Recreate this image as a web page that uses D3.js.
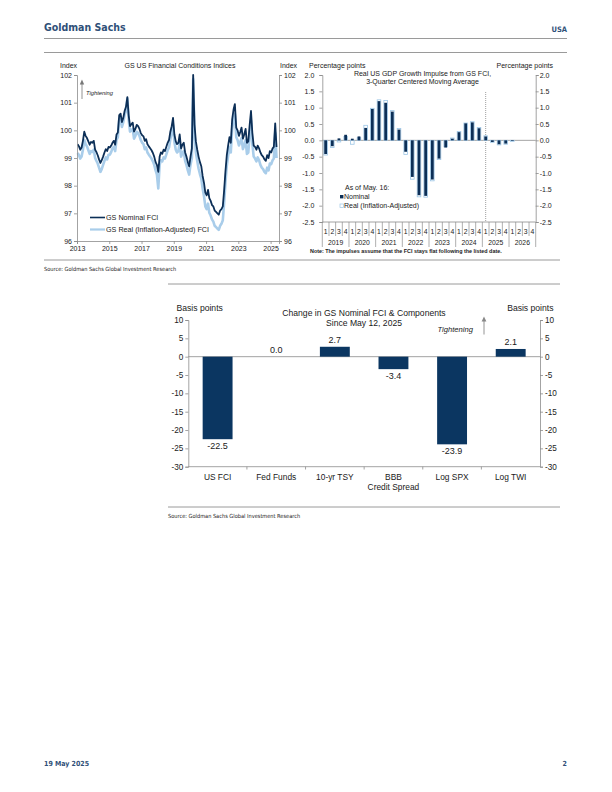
<!DOCTYPE html>
<html lang="en">
<head>
<meta charset="utf-8">
<script src="https://cdn.jsdelivr.net/npm/d3@7/dist/d3.min.js"></script>
<style>
  body { margin: 0; background: #fff; }
  text { font-family: "Liberation Sans", Arial, sans-serif; fill: #1a1a1a; }
  .cond { font-family: "Liberation Sans Narrow", "DejaVu Sans Condensed", "Liberation Sans", sans-serif; }
</style>
</head>
<body>
<svg id="page" width="612" height="792"></svg>
<script>

// ---------- data ----------
// GS FCI, monthly readings from Jan 2013 to May 2025
var fciStartYear = 2013;
var fciYearTicks = [2013, 2015, 2017, 2019, 2021, 2023, 2025];
var nominalFci = [
  99.50, 99.42, 99.30, 99.38, 99.62, 99.95, 99.80, 99.72, 99.60, 99.48, 99.58, 99.55,
  99.62, 99.30, 99.22, 99.10, 98.95, 98.82, 98.92, 99.05, 99.20, 99.32, 99.25, 99.40,
  99.38, 99.45, 99.55, 99.62, 99.48, 99.85, 99.92, 100.55, 100.60, 100.30, 100.45, 100.70,
  100.85, 101.20, 100.55, 100.15, 100.22, 100.28, 99.95, 100.05, 100.20, 100.15, 100.05, 99.90,
  99.82, 99.78, 99.62, 99.68, 99.50, 99.42, 99.35, 99.28, 99.18, 99.05, 98.85, 98.75,
  98.50, 99.05, 99.20, 99.15, 99.30, 99.25, 99.40, 99.55, 99.65, 99.95, 100.15, 100.45,
  99.85, 99.60, 99.50, 99.55, 99.85, 99.35, 99.48, 99.55, 99.20, 99.05, 98.85, 98.70,
  99.05, 99.35, 102.00, 100.20, 99.60, 99.30, 99.05, 98.85, 98.70, 98.35, 98.10, 97.75,
  97.65, 97.85, 97.55, 97.45, 97.30, 97.25, 97.10, 97.05, 97.00, 96.95, 97.10, 97.15,
  97.25, 97.85, 98.50, 99.10, 99.45, 99.75, 99.55, 100.40, 100.75, 100.95, 100.10, 100.00,
  99.80, 99.95, 100.10, 99.70, 99.85, 100.05, 99.55, 99.60, 100.20, 100.70, 99.90, 99.45,
  99.40, 99.30, 99.45, 99.35, 99.20, 99.10, 99.05, 98.95, 98.90, 99.10, 99.00, 99.25,
  99.20, 99.35, 99.40, 100.25, 99.40
];
var realFci = [
  99.18, 99.10, 98.98, 99.05, 99.30, 99.65, 99.50, 99.42, 99.28, 99.15, 99.25, 99.22,
  99.30, 99.00, 98.90, 98.80, 98.65, 98.50, 98.60, 98.75, 98.90, 99.02, 98.95, 99.12,
  99.12, 99.22, 99.35, 99.40, 99.25, 99.65, 99.75, 100.40, 100.45, 100.12, 100.30, 100.55,
  100.70, 101.15, 100.40, 99.95, 100.00, 100.05, 99.70, 99.80, 99.95, 99.90, 99.80, 99.65,
  99.55, 99.50, 99.32, 99.38, 99.20, 99.12, 99.05, 98.98, 98.88, 98.75, 98.55, 98.40,
  97.90, 98.75, 98.92, 98.88, 99.02, 98.98, 99.12, 99.28, 99.38, 99.68, 99.90, 100.20,
  99.58, 99.30, 99.20, 99.25, 99.55, 99.05, 99.18, 99.25, 98.90, 98.75, 98.55, 98.40,
  98.75, 99.00, 101.85, 99.85, 99.20, 98.90, 98.62, 98.42, 98.25, 97.90, 97.62, 97.25,
  97.15, 97.35, 97.02, 96.92, 96.78, 96.70, 96.55, 96.50, 96.45, 96.40, 96.55, 96.62,
  96.75, 97.40, 98.10, 98.72, 99.08, 99.40, 99.20, 100.05, 100.40, 100.60, 99.75, 99.65,
  99.45, 99.58, 99.72, 99.32, 99.45, 99.65, 99.15, 99.20, 99.82, 100.35, 99.50, 99.05,
  98.98, 98.88, 99.02, 98.92, 98.75, 98.65, 98.60, 98.50, 98.45, 98.65, 98.55, 98.80,
  98.78, 98.92, 98.98, 99.90, 99.00
];

// GDP impulse, quarterly 2019Q1 .. 2026Q4
var impulseYears = ["2019", "2020", "2021", "2022", "2023", "2024", "2025", "2026"];
var impulseNominal = [
  -0.42, -0.18, 0.06, 0.17, 0.05, 0.12, 0.38, 0.96,
   1.20, 1.15, 0.88, 0.33, -0.35, -1.12, -1.68, -1.70,
  -1.20, -0.56, -0.22, 0.05, 0.25, 0.52, 0.55, 0.37,
   0.12, -0.05, -0.12, -0.10, -0.02, null, null, null
];
var impulseReal = [
  -0.45, -0.22, -0.05, 0.12, -0.12, 0.08, 0.46, 0.98,
   1.24, 1.22, 0.91, 0.36, -0.43, -1.19, -1.73, -1.74,
  -1.24, -0.59, -0.20, 0.07, 0.27, 0.53, 0.57, 0.39,
   0.14, -0.06, -0.14, -0.12, -0.03, null, null, null
];

// Change in FCI and components since May 12, 2025 (bp)
var compCategories = ["US FCI", "Fed Funds", "10-yr TSY", "BBB\nCredit Spread", "Log SPX", "Log TWI"];
var compValues = [-22.5, 0.0, 2.7, -3.4, -23.9, 2.1];

var axisColor = "#8c8c8c";
var navy = "#0c2f57";
var lightBlue = "#a9cdea";

var svg = d3.select("#page");
svg.append("rect").attr("width", 612).attr("height", 792).attr("fill", "#fff");

// plain hyphen for negatives, like the source
function hyph(fmt) {
  var f = d3.format(fmt);
  return function(d) { return f(d).replace("\u2212", "-"); };
}

function styleAxis(g, fs) {
  g.select(".domain").attr("stroke", axisColor).attr("stroke-width", 0.8);
  g.selectAll(".tick line").attr("stroke", axisColor).attr("stroke-width", 0.8);
  g.selectAll(".tick text").attr("font-size", fs).attr("fill", "#1a1a1a")
    .attr("font-family", "Liberation Sans, Arial, sans-serif");
}

// ---------- page header / footer ----------
svg.append("text").attr("class", "cond").attr("x", 44).attr("y", 31)
  .attr("font-size", 10.5).attr("font-weight", "bold").style("fill", "#2f5078").text("Goldman Sachs");
svg.append("text").attr("class", "cond").attr("x", 567).attr("y", 32).attr("text-anchor", "end")
  .attr("font-size", 7.5).attr("font-weight", "bold").style("fill", "#2f5078").text("USA");
[38.5, 52.5].forEach(function(yy) {
  svg.append("line").attr("x1", 44).attr("x2", 567).attr("y1", yy).attr("y2", yy)
    .attr("stroke", "#9a9a9a").attr("stroke-width", 1.2);
});
svg.append("text").attr("class", "cond").attr("x", 44).attr("y", 766)
  .attr("font-size", 7).attr("font-weight", "bold").style("fill", "#2f5078").text("19 May 2025");
svg.append("text").attr("class", "cond").attr("x", 567).attr("y", 766).attr("text-anchor", "end")
  .attr("font-size", 7).attr("font-weight", "bold").style("fill", "#2f5078").text("2");

// ---------- chart 1: GS US Financial Conditions Indices ----------
var x1 = d3.scaleTime().domain([new Date(2013, 0, 1), new Date(2025, 6, 10)]).range([77, 279]);
var y1 = d3.scaleLinear().domain([96, 102]).range([241, 75]);
function fciDate(i) { return new Date(fciStartYear, i, 15); }

var line1 = d3.line().x(function(d, i) { return x1(fciDate(i)); }).y(function(d) { return y1(d); });

svg.append("path").datum(realFci).attr("d", line1).attr("fill", "none")
  .attr("stroke", lightBlue).attr("stroke-width", 2.6).attr("stroke-linejoin", "round");
svg.append("path").datum(nominalFci).attr("d", line1).attr("fill", "none")
  .attr("stroke", navy).attr("stroke-width", 1.8).attr("stroke-linejoin", "round");

var g1l = svg.append("g").attr("transform", "translate(77,0)")
  .call(d3.axisLeft(y1).ticks(6).tickSize(3).tickPadding(2).tickFormat(d3.format("d")));
styleAxis(g1l, 7);
var g1r = svg.append("g").attr("transform", "translate(279,0)")
  .call(d3.axisRight(y1).ticks(6).tickSize(3).tickPadding(2).tickFormat(d3.format("d")));
styleAxis(g1r, 7);
var g1b = svg.append("g").attr("transform", "translate(0,241)")
  .call(d3.axisBottom(x1).tickValues(fciYearTicks.map(function(yr) { return new Date(yr, 0, 1); }))
    .tickSize(3).tickPadding(2).tickFormat(d3.timeFormat("%Y")));
styleAxis(g1b, 7);

svg.append("text").attr("x", 60).attr("y", 68).attr("font-size", 7).text("Index");
svg.append("text").attr("x", 280).attr("y", 68).attr("font-size", 7).text("Index");
svg.append("text").attr("x", 180).attr("y", 68).attr("text-anchor", "middle").attr("font-size", 7)
  .text("GS US Financial Conditions Indices");

// tightening arrow
svg.append("line").attr("x1", 82).attr("x2", 82).attr("y1", 99).attr("y2", 83)
  .attr("stroke", "#777").attr("stroke-width", 0.8);
svg.append("path").attr("d", "M79.8,84.5 L82,79.5 L84.2,84.5 Z").attr("fill", "#777");
svg.append("text").attr("x", 86).attr("y", 94.5).attr("font-size", 5.8).attr("font-style", "italic")
  .text("Tightening");

// legend
svg.append("line").attr("x1", 90).attr("x2", 105).attr("y1", 217.5).attr("y2", 217.5)
  .attr("stroke", navy).attr("stroke-width", 1.6);
svg.append("text").attr("x", 106).attr("y", 220).attr("font-size", 7.2).text("GS Nominal FCI");
svg.append("line").attr("x1", 90).attr("x2", 105).attr("y1", 229.5).attr("y2", 229.5)
  .attr("stroke", lightBlue).attr("stroke-width", 2.2);
svg.append("text").attr("x", 106).attr("y", 232).attr("font-size", 7.2).text("GS Real (Inflation-Adjusted) FCI");

// ---------- chart 2: GDP growth impulse ----------
var x2 = d3.scaleBand().domain(d3.range(impulseNominal.length)).range([322.3, 535.7]);
var y2 = d3.scaleLinear().domain([-2.5, 2]).range([222, 75]);
var bw2 = x2.bandwidth();

svg.append("line").attr("x1", 322.3).attr("x2", 535.7).attr("y1", y2(0)).attr("y2", y2(0))
  .attr("stroke", axisColor).attr("stroke-width", 0.8);

// forecast divider
svg.append("line").attr("x1", x2(24) + bw2 * 0.5).attr("x2", x2(24) + bw2 * 0.5)
  .attr("y1", 92).attr("y2", 222).attr("stroke", "#777").attr("stroke-width", 0.7)
  .attr("stroke-dasharray", "1,1");

var realIdx = d3.range(impulseReal.length).filter(function(i) { return impulseReal[i] !== null; });
svg.selectAll("rect.real").data(realIdx).enter().append("rect").attr("class", "real")
  .attr("x", function(i) { return x2(i) + (bw2 - 3.6) / 2; })
  .attr("width", 3.6)
  .attr("y", function(i) { return Math.min(y2(impulseReal[i]), y2(0)); })
  .attr("height", function(i) { return Math.abs(y2(impulseReal[i]) - y2(0)); })
  .attr("fill", "#fff").attr("stroke", "#9cc6e6").attr("stroke-width", 0.8);

var nomIdx = d3.range(impulseNominal.length).filter(function(i) { return impulseNominal[i] !== null; });
svg.selectAll("rect.nom").data(nomIdx).enter().append("rect").attr("class", "nom")
  .attr("x", function(i) { return x2(i) + (bw2 - 2.8) / 2; })
  .attr("width", 2.8)
  .attr("y", function(i) { return Math.min(y2(impulseNominal[i]), y2(0)); })
  .attr("height", function(i) { return Math.abs(y2(impulseNominal[i]) - y2(0)); })
  .attr("fill", navy);

var g2l = svg.append("g").attr("transform", "translate(322.3,0)")
  .call(d3.axisLeft(y2).tickValues(d3.range(-2.5, 2.01, 0.5)).tickSize(3).tickPadding(5).tickFormat(hyph(".1f")));
styleAxis(g2l, 7);
var g2r = svg.append("g").attr("transform", "translate(535.7,0)")
  .call(d3.axisRight(y2).tickValues(d3.range(-2.5, 2.01, 0.5)).tickSize(3).tickPadding(1).tickFormat(hyph(".1f")));
styleAxis(g2r, 7);

// category axis: quarters and years
svg.append("line").attr("x1", 322.3).attr("x2", 535.7).attr("y1", 222).attr("y2", 222)
  .attr("stroke", axisColor).attr("stroke-width", 0.8);
d3.range(impulseNominal.length + 1).forEach(function(i) {
  var xx = i < impulseNominal.length ? x2(i) : x2(i - 1) + bw2;
  svg.append("line").attr("x1", xx).attr("x2", xx).attr("y1", 222).attr("y2", i % 4 === 0 ? 247 : 236)
    .attr("stroke", axisColor).attr("stroke-width", 0.7);
});
svg.selectAll("text.qtr").data(d3.range(impulseNominal.length)).enter().append("text").attr("class", "qtr")
  .attr("x", function(i) { return x2(i) + bw2 / 2; }).attr("y", 233.5)
  .attr("text-anchor", "middle").attr("font-size", 6.8)
  .text(function(i) { return (i % 4) + 1; });
svg.selectAll("text.yr").data(impulseYears).enter().append("text").attr("class", "yr")
  .attr("x", function(d, k) { return x2(k * 4) + bw2 * 2; }).attr("y", 244.5)
  .attr("text-anchor", "middle").attr("font-size", 6.8)
  .text(function(d) { return d; });

svg.append("text").attr("x", 309).attr("y", 68).attr("font-size", 7).text("Percentage points");
svg.append("text").attr("x", 553).attr("y", 68).attr("text-anchor", "end").attr("font-size", 7).text("Percentage points");
svg.append("text").attr("x", 422.5).attr("y", 76).attr("text-anchor", "middle").attr("font-size", 7)
  .text("Real US GDP Growth Impulse from GS FCI,");
svg.append("text").attr("x", 422.5).attr("y", 83.5).attr("text-anchor", "middle").attr("font-size", 7)
  .text("3-Quarter Centered Moving Average");

// legend
svg.append("text").attr("x", 345).attr("y", 190).attr("font-size", 7).text("As of May. 16:");
svg.append("rect").attr("x", 340).attr("y", 195).attr("width", 3.4).attr("height", 3.4).attr("fill", navy);
svg.append("text").attr("x", 344).attr("y", 199.3).attr("font-size", 7).text("Nominal");
svg.append("rect").attr("x", 340).attr("y", 204).attr("width", 3.4).attr("height", 3.4)
  .attr("fill", "#fff").attr("stroke", "#9cc6e6").attr("stroke-width", 0.7);
svg.append("text").attr("x", 344).attr("y", 208.3).attr("font-size", 7).text("Real (Inflation-Adjusted)");

svg.append("text").attr("x", 310).attr("y", 252.5).attr("font-size", 5.4).attr("font-weight", "bold")
  .text("Note: The impulses assume that the FCI stays flat following the listed date.");

// top section footer
svg.append("line").attr("x1", 44).attr("x2", 560).attr("y1", 260).attr("y2", 260)
  .attr("stroke", "#9a9a9a").attr("stroke-width", 1);
svg.append("text").attr("class", "cond").attr("x", 44).attr("y", 271).attr("font-size", 5.6)
  .text("Source: Goldman Sachs Global Investment Research");
svg.append("line").attr("x1", 168).attr("x2", 560).attr("y1", 284).attr("y2", 284)
  .attr("stroke", "#9a9a9a").attr("stroke-width", 1);

// ---------- chart 3: change in FCI components ----------
var x3 = d3.scaleBand().domain(compCategories).range([188.3, 540]).paddingInner(0.49).paddingOuter(0.245);
var y3 = d3.scaleLinear().domain([-30, 10]).range([466.7, 320]);

svg.append("line").attr("x1", 188.3).attr("x2", 540).attr("y1", y3(0)).attr("y2", y3(0))
  .attr("stroke", axisColor).attr("stroke-width", 0.8);

svg.selectAll("rect.comp").data(compValues).enter().append("rect").attr("class", "comp")
  .attr("x", function(d, i) { return x3(compCategories[i]); })
  .attr("width", x3.bandwidth())
  .attr("y", function(d) { return Math.min(y3(d), y3(0)); })
  .attr("height", function(d) { return Math.abs(y3(d) - y3(0)); })
  .attr("fill", "#0b3661");

svg.selectAll("text.val").data(compValues).enter().append("text").attr("class", "val")
  .attr("x", function(d, i) { return x3(compCategories[i]) + x3.bandwidth() / 2; })
  .attr("y", function(d) { return d < 0 ? y3(d) + 10 : y3(d) - 3.5; })
  .attr("text-anchor", "middle").attr("font-size", 9)
  .text(function(d) { return d.toFixed(1); });

var g3l = svg.append("g").attr("transform", "translate(188.3,0)")
  .call(d3.axisLeft(y3).ticks(8).tickSize(3).tickPadding(2).tickFormat(hyph("d")));
styleAxis(g3l, 8.2);
var g3r = svg.append("g").attr("transform", "translate(540,0)")
  .call(d3.axisRight(y3).ticks(8).tickSize(3).tickPadding(2).tickFormat(hyph("d")));
styleAxis(g3r, 8.2);

// category axis along the bottom
svg.append("line").attr("x1", 188.3).attr("x2", 540).attr("y1", 466.7).attr("y2", 466.7)
  .attr("stroke", axisColor).attr("stroke-width", 0.8);
var step3 = x3.step();
d3.range(1, compCategories.length).forEach(function(k) {
  var xx = 188.3 + k * step3;
  svg.append("line").attr("x1", xx).attr("x2", xx).attr("y1", 466.7).attr("y2", 469.5)
    .attr("stroke", axisColor).attr("stroke-width", 0.8);
});
compCategories.forEach(function(c) {
  var t = svg.append("text").attr("x", x3(c) + x3.bandwidth() / 2).attr("y", 480)
    .attr("text-anchor", "middle").attr("font-size", 8.4);
  c.split("\n").forEach(function(part, j) {
    t.append("tspan").attr("x", x3(c) + x3.bandwidth() / 2).attr("dy", j === 0 ? 0 : 9.5).text(part);
  });
});

svg.append("text").attr("x", 176.5).attr("y", 310.5).attr("font-size", 8.6).text("Basis points");
svg.append("text").attr("x", 553.5).attr("y", 310.5).attr("text-anchor", "end").attr("font-size", 8.6).text("Basis points");
svg.append("text").attr("x", 364).attr("y", 315.5).attr("text-anchor", "middle").attr("font-size", 8.6)
  .text("Change in GS Nominal FCI & Components");
svg.append("text").attr("x", 364).attr("y", 326).attr("text-anchor", "middle").attr("font-size", 8.6)
  .text("Since May 12, 2025");
svg.append("text").attr("x", 437.5).attr("y", 332).attr("font-size", 7.6).attr("font-style", "italic")
  .text("Tightening");
svg.append("line").attr("x1", 484).attr("x2", 484).attr("y1", 334.5).attr("y2", 320)
  .attr("stroke", "#888").attr("stroke-width", 0.9);
svg.append("path").attr("d", "M481.6,321.5 L484,316.5 L486.4,321.5 Z").attr("fill", "#888");

svg.append("line").attr("x1", 168).attr("x2", 560).attr("y1", 507).attr("y2", 507)
  .attr("stroke", "#9a9a9a").attr("stroke-width", 1);
svg.append("text").attr("class", "cond").attr("x", 168).attr("y", 518).attr("font-size", 5.6)
  .text("Source: Goldman Sachs Global Investment Research");

</script>
</body>
</html>
